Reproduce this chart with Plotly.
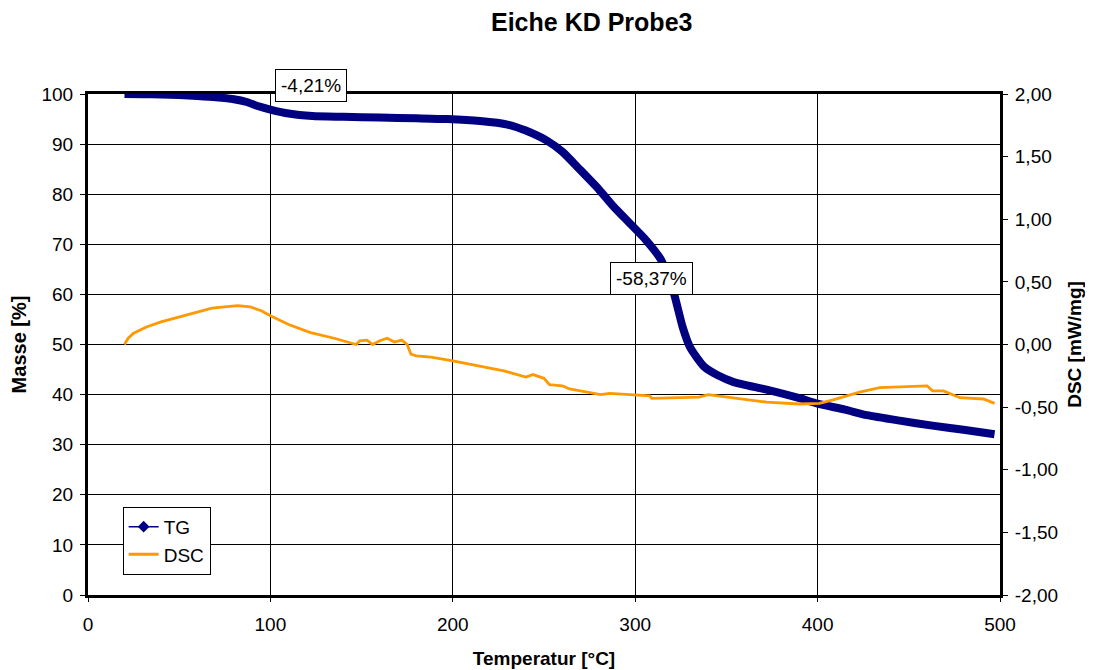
import plotly.graph_objects as go

# TG data (Temperatur °C -> Masse %)
tg_T = [20, 30, 40, 50, 60, 70, 80, 87, 93, 100, 110, 123, 140, 160, 180, 197, 215, 230, 240,
        252, 260, 270, 280, 288, 297, 306, 314, 321, 326, 330, 334, 338, 345, 354, 372, 390,
        400, 415, 427, 445, 463, 480, 497]
tg_M = [100.0, 99.95, 99.9, 99.8, 99.6, 99.35, 98.95, 98.4, 97.6, 96.9, 96.1, 95.6, 95.45, 95.3,
        95.15, 95.0, 94.6, 93.9, 92.7, 90.6, 88.5, 84.8, 81.0, 77.6, 74.2, 70.8, 67.0, 60.5,
        53.5, 49.5, 47.3, 45.5, 43.9, 42.5, 41.0, 39.3, 38.2, 37.0, 35.9, 34.8, 33.8, 33.0, 32.1]

# DSC data (Temperatur °C -> mW/mg)
dsc_T = [20, 22, 25, 32, 40, 50, 60, 68, 75, 82, 89, 95, 100, 110, 122, 135, 147, 149, 153, 156,
         160, 164, 168, 172, 175, 177, 180, 188, 200, 215, 228, 240, 244, 250, 253, 260, 264, 270,
         281, 286, 299, 308, 309, 321, 335, 340, 354, 372, 390, 401, 409, 418, 423, 434, 445, 460,
         463, 469, 478, 491, 497]
dsc_V = [0.0, 0.05, 0.09, 0.14, 0.18, 0.22, 0.26, 0.29, 0.30, 0.31, 0.30, 0.27, 0.23, 0.16, 0.095,
         0.05, 0.0, 0.03, 0.035, 0.0, 0.03, 0.05, 0.02, 0.035, 0.0, -0.076, -0.09, -0.1, -0.13,
         -0.17, -0.21, -0.26, -0.24, -0.27, -0.32, -0.33, -0.355, -0.37, -0.40, -0.39, -0.40,
         -0.41, -0.43, -0.425, -0.42, -0.40, -0.425, -0.46, -0.475, -0.47, -0.44, -0.40, -0.38,
         -0.345, -0.34, -0.33, -0.37, -0.37, -0.425, -0.435, -0.47]

x_ticks = [0, 100, 200, 300, 400, 500]
y1_ticks = [0, 10, 20, 30, 40, 50, 60, 70, 80, 90, 100]
y2_ticks = [-2.0, -1.5, -1.0, -0.5, 0.0, 0.5, 1.0, 1.5, 2.0]
y2_labels = ["-2,00", "-1,50", "-1,00", "-0,50", "0,00", "0,50", "1,00", "1,50", "2,00"]

FONT = "Liberation Sans, Arial, sans-serif"
NAVY = "#000080"
ORANGE = "#FF9900"

fig = go.Figure()

fig.add_trace(go.Scatter(x=dsc_T, y=dsc_V, mode="lines", name="DSC",
                         line=dict(color=ORANGE, width=2.8), yaxis="y2", showlegend=False))
fig.add_trace(go.Scatter(x=tg_T, y=tg_M, mode="lines", name="TG",
                         line=dict(color=NAVY, width=8, shape="spline", smoothing=0.6),
                         showlegend=False))
# legend entries
fig.add_trace(go.Scatter(x=[None], y=[None], mode="lines+markers", name="TG",
                         line=dict(color=NAVY, width=1.5),
                         marker=dict(symbol="diamond", size=9, color=NAVY)))
fig.add_trace(go.Scatter(x=[None], y=[None], mode="lines", name="DSC",
                         line=dict(color=ORANGE, width=3), yaxis="y2"))

ann_style = dict(showarrow=False, font=dict(family=FONT, size=19, color="black"),
                 bgcolor="white", bordercolor="black", borderwidth=1, borderpad=5)
fig.add_annotation(x=122, y=1.016, xref="x", yref="paper", yanchor="middle",
                   text="-4,21%", **ann_style)
fig.add_annotation(x=309, y=63.1, xref="x", yref="y", yanchor="middle",
                   text="-58,37%", **ann_style)

fig.update_layout(
    width=1085, height=662,
    margin=dict(l=80, r=93, t=86, b=75, autoexpand=False),
    paper_bgcolor="white", plot_bgcolor="white",
    font=dict(family=FONT, size=19, color="black"),
    title=dict(text="<b>Eiche KD Probe3</b>", xref="container", x=0.538, xanchor="center",
               yref="container", y=0.979, yanchor="middle", font=dict(size=25, family=FONT)),
    xaxis=dict(range=[0, 500], tickvals=x_ticks, showgrid=True, gridcolor="#000000",
               gridwidth=1, showline=True, linecolor="black", linewidth=3, mirror=True,
               ticks="outside", ticklen=4, tickcolor="black", zeroline=False,
               ticklabelstandoff=6, automargin=False,
               title=dict(text="<b>Temperatur [°C]</b>", font=dict(size=19), standoff=18)),
    yaxis=dict(range=[0, 100], tickvals=y1_ticks, showgrid=True, gridcolor="#000000",
               gridwidth=1, showline=True, linecolor="black", linewidth=3, mirror=True,
               ticks="outside", ticklen=5, tickcolor="black", zeroline=False,
               ticklabelstandoff=3, automargin=False,
               title=dict(text="<b>Masse [%]</b>", font=dict(size=20), standoff=12)),
    yaxis2=dict(range=[-2, 2], tickvals=y2_ticks, ticktext=y2_labels, overlaying="y",
                side="right", showgrid=False, showline=True, linecolor="black", linewidth=3,
                ticks="outside", ticklen=5, tickcolor="black", zeroline=False,
                ticklabelstandoff=3, automargin=False,
                title=dict(text="<b>DSC [mW/mg]</b>", font=dict(size=19), standoff=11)),
    legend=dict(x=0.038, y=0.176, xanchor="left", yanchor="top", bgcolor="white",
                bordercolor="black", borderwidth=1, font=dict(size=19),
                tracegroupgap=0, itemwidth=30),
    showlegend=True,
)

fig.write_html("out.html")
